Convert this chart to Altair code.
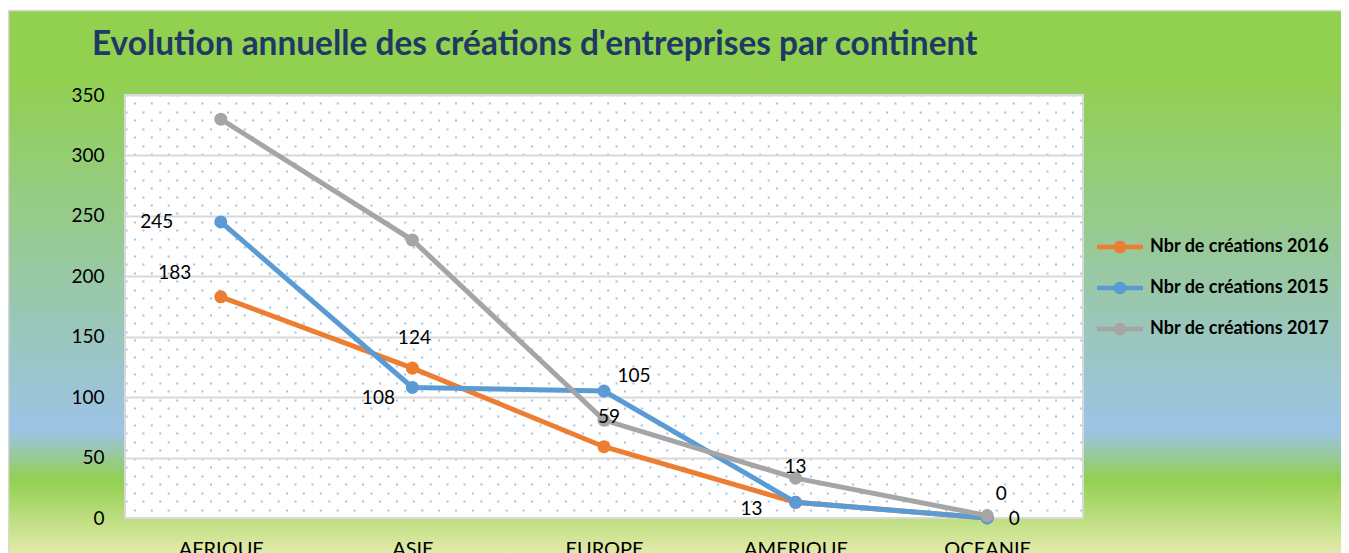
import math
import altair as alt
import pandas as pd

# ---------------- data ----------------
categories = ["AFRIQUE", "ASIE", "EUROPE", "AMERIQUE", "OCEANIE"]
series_names = ["Nbr de créations 2016", "Nbr de créations 2015", "Nbr de créations 2017"]
values_2016 = [183, 124, 59, 13, 0]
values_2015 = [245, 108, 105, 13, 0]
values_2017 = [330, 230, 81, 33, 2]
y_ticks = [0, 50, 100, 150, 200, 250, 300, 350]
title_text = "Evolution annuelle des créations d'entreprises par continent"

# ---------------- styles ----------------
series_colors = ["#ED7D31", "#5B9BD5", "#A5A5A5"]
FONT = "Lato"
W, H = 958, 423

label_places = {
    ("Nbr de créations 2015", "AFRIQUE"): (-64, 0),
    ("Nbr de créations 2015", "ASIE"): (-34, 11),
    ("Nbr de créations 2015", "EUROPE"): (30, -15),
    ("Nbr de créations 2015", "AMERIQUE"): (0, -35),
    ("Nbr de créations 2015", "OCEANIE"): (27, 1),
    ("Nbr de créations 2016", "AFRIQUE"): (-46, -24),
    ("Nbr de créations 2016", "ASIE"): (2, -30),
    ("Nbr de créations 2016", "EUROPE"): (5, -30),
    ("Nbr de créations 2016", "AMERIQUE"): (-44, 7),
    ("Nbr de créations 2016", "OCEANIE"): (14, -24),
}

rows = []
for s, vals in zip(series_names, [values_2016, values_2015, values_2017]):
    for c, v in zip(categories, vals):
        rows.append({"serie": s, "continent": c, "valeur": v})
df = pd.DataFrame(rows)

bg_stops = [(0.0, "#92D050"), (0.12, "#92D050"), (0.775, "#9DC3E6"),
            (0.865, "#92D050"), (1.0, "#E2EAAA")]


def _rgb(h):
    return [int(h[i:i + 2], 16) for i in (1, 3, 5)]


def color_at(t):
    for (o0, c0), (o1, c1) in zip(bg_stops[:-1], bg_stops[1:]):
        if o0 <= t <= o1:
            f = 0 if o1 == o0 else (t - o0) / (o1 - o0)
            a, b = _rgb(c0), _rgb(c1)
            return "#" + "".join(f"{round(a[i] + (b[i] - a[i]) * f):02X}" for i in range(3))
    return bg_stops[-1][1]


def sub_gradient(t0, t1):
    stops = [{"offset": 0, "color": color_at(t0)}]
    for o, c in bg_stops:
        if t0 < o < t1:
            stops.append({"offset": (o - t0) / (t1 - t0), "color": c})
    stops.append({"offset": 1, "color": color_at(t1)})
    return {"gradient": "linear", "x1": 0, "y1": 0, "x2": 0, "y2": 1, "stops": stops}


PAD_RIGHT = 258
TOP, BOT, LEFT, RIGHT = -84, 458, -116, W + PAD_RIGHT
span = BOT - TOP
one = alt.Data(values=[{}])


def strip(x0, x1, y0, y1):
    return alt.Chart(one).mark_rect(
        fill=sub_gradient((y0 - TOP) / span, (y1 - TOP) / span), strokeWidth=0
    ).encode(x=alt.value(x0), x2=alt.value(x1), y=alt.value(y0), y2=alt.value(y1))


strips = [
    strip(LEFT, 0, TOP, BOT),
    strip(W, RIGHT, TOP, BOT),
    strip(0, W, TOP, 0),
    strip(0, W, H, BOT),
]

outer_border = alt.Chart(one).mark_rect(
    filled=False, stroke="#D9D9D9", strokeWidth=1.5
).encode(x=alt.value(LEFT - 0.5), x2=alt.value(RIGHT + 5), y=alt.value(TOP - 0.5), y2=alt.value(BOT + 5))

plot_border = alt.Chart(one).mark_rect(
    filled=False, stroke="#D9D9D9", strokeWidth=2
).encode(x=alt.value(0), x2=alt.value(W), y=alt.value(0), y2=alt.value(H))

x_scale = alt.Scale(type="point", padding=0.5)
y_scale = alt.Scale(domain=[0, 350], nice=False, zero=True)
color_scale = alt.Scale(domain=series_names, range=series_colors)


def X(axis=None):
    return alt.X("continent:N", sort=categories, scale=x_scale, axis=axis)


def Y(axis=None):
    return alt.Y("valeur:Q", scale=y_scale, axis=axis)


# dotted texture: two dashed grids, alternate rows shifted by half a period
dot_rows_a = list(range(0, 351, 14))
dot_rows_b = list(range(7, 351, 14))


def dot_layer(rows_, shift):
    return alt.Chart(df).mark_point(opacity=0, size=1).encode(
        x=X(),
        y=Y(alt.Axis(values=rows_, grid=True, labels=False, ticks=False, domain=False,
                     title=None, orient="left", zindex=0, gridColor="#9DC3E6", gridWidth=2,
                     gridDash=[2, 14.9], gridDashOffset=shift)),
    )


# solid grid lines, behind the series
grid_layer = alt.Chart(df).mark_point(opacity=0, size=1).encode(
    x=X(),
    y=Y(alt.Axis(values=y_ticks, grid=True, labels=False, ticks=False, domain=False,
                 title=None, orient="left", zindex=0, gridColor="#D9D9D9", gridWidth=2)),
)

lines = alt.Chart(df).mark_line(strokeWidth=5).encode(
    x=X(alt.Axis(title=None, labelFont=FONT, labelFontSize=20, labelColor="#000000",
                 labelPadding=21, labelAngle=0, ticks=False, domain=False, grid=False,
                 zindex=1, orient="bottom")),
    y=Y(alt.Axis(title=None, values=y_ticks, labelFont=FONT, labelFontSize=19,
                 labelColor="#000000", labelPadding=21, ticks=False, domain=False,
                 grid=False, zindex=1, orient="left")),
    color=alt.Color("serie:N", scale=color_scale, sort=series_names, legend=None),
)

circle_pts = " ".join(
    f"{'M' if k == 0 else 'L'}{0.54 * math.cos(2 * math.pi * k / 24):.3f},{0.54 * math.sin(2 * math.pi * k / 24):.3f}"
    for k in range(24)
)
legend_symbol = "M-2,-0.2L2,-0.2L2,0.2L-2,0.2Z " + circle_pts + "Z"

points = alt.Chart(df).mark_point(filled=True, size=170, opacity=1).encode(
    x=X(), y=Y(),
    color=alt.Color("serie:N", scale=color_scale, sort=series_names,
                    legend=alt.Legend(title=None, orient="none", legendX=983.5, legendY=140.5,
                                      symbolType=legend_symbol, symbolSize=529,
                                      symbolStrokeWidth=0, symbolOpacity=1,
                                      labelFont=FONT, labelFontSize=18, labelFontWeight="bold",
                                      labelColor="#000000", labelOffset=18.5, rowPadding=20,
                                      labelLimit=400, padding=0)),
)

label_layers = []
for (s, c), (dx, dy) in label_places.items():
    label_layers.append(
        alt.Chart(df).transform_filter(
            (alt.datum.serie == s) & (alt.datum.continent == c)
        ).mark_text(dx=dx, dy=dy, font=FONT, fontSize=19, color="#000000",
                    align="center", baseline="middle").encode(
            x=X(), y=Y(), text=alt.Text("valeur:Q")
        )
    )

chart = alt.layer(
    *strips, outer_border, plot_border,
    dot_layer(dot_rows_a, 0), dot_layer(dot_rows_b, 8.5), grid_layer,
    lines, points, *label_layers
).resolve_axis(
    x="independent", y="independent"
).resolve_legend(
    color="independent"
).properties(
    width=W, height=H,
    title=alt.TitleParams(text=title_text, anchor="start", frame="group", dx=-33,
                          offset=-53, font=FONT, fontSize=33.4, fontWeight="bold",
                          color="#1F3864"),
    autosize=alt.AutoSizeParams(type="none"),
    padding={"left": 117, "top": 87, "right": PAD_RIGHT, "bottom": 35},
).configure_view(fill="white", strokeWidth=0)

chart.save("out.html", embed_options={"renderer": "svg", "actions": False})
